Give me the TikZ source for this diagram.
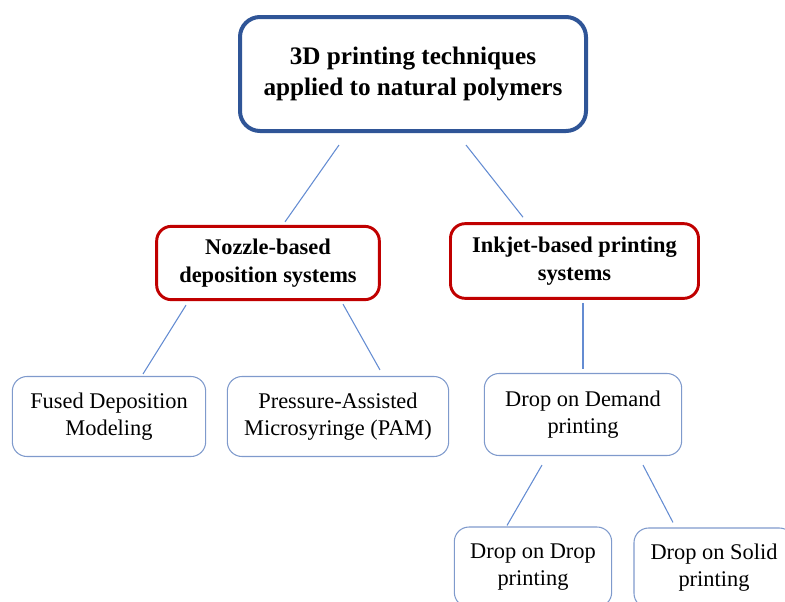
\documentclass[tikz,border=0pt]{standalone}
\usepackage{fontspec}
\setmainfont{Liberation Serif}
\definecolor{rootblue}{RGB}{47,85,151}
\definecolor{darkred}{RGB}{192,0,0}
\definecolor{boxblue}{RGB}{127,154,204}
\definecolor{linkblue}{RGB}{100,140,210}
\begin{document}
\begin{tikzpicture}[x=0.75pt, y=-0.75pt,
    rootbox/.style={draw=rootblue, line width=3pt, rounded corners=15pt, align=center,
        font=\bfseries\fontsize{18.9}{23.25}\selectfont},
    groupbox/.style={draw=darkred, line width=2.2pt, rounded corners=11pt, align=center,
        font=\bfseries\fontsize{16.8}{21}\selectfont},
    leafbox/.style={draw=boxblue, line width=0.8pt, rounded corners=11pt, align=center,
        minimum height=60pt, font=\fontsize{16.8}{20.25}\selectfont},
    link/.style={draw=linkblue, line width=0.8pt}]
    \clip (0,0) rectangle (785,601);

    \node[rootbox, minimum width=259.5pt, minimum height=85.5pt] (root) at (413,74)
        {3D printing techniques\\applied to natural polymers};

    \node[groupbox, minimum width=167pt, minimum height=55pt] (nozzle) at (268,263)
        {Nozzle-based\\deposition systems};
    \node[groupbox, minimum width=186pt, minimum height=56pt] (inkjet) at (574.5,261)
        {Inkjet-based printing\\systems};

    \node[leafbox, minimum width=145pt] (fdm) at (109,416.5) {Fused Deposition\\Modeling};
    \node[leafbox, minimum width=166pt] (pam) at (338,416.5) {Pressure-Assisted\\Microsyringe (PAM)};
    \node[leafbox, minimum width=148pt, minimum height=61.5pt] (dod) at (583,414.5) {Drop on Demand\\printing};
    \node[leafbox, minimum width=118pt] (dodrop) at (533,567) {Drop on Drop\\printing};
    \node[leafbox, minimum width=120pt] (dosolid) at (714,568) {Drop on Solid\\printing};

    % connectors stop short of the boxes
    \draw[link] ([shift={(-74,12)}]root.south) -- ([shift={(17,-3)}]nozzle.north);
    \draw[link] ([shift={(53,12)}]root.south) -- ([shift={(-51.5,-5)}]inkjet.north);
    \draw[link] ([shift={(-82,4)}]nozzle.south) -- ([shift={(34,-2)}]fdm.north);
    \draw[link] ([shift={(75,3)}]nozzle.south) -- ([shift={(42,-6)}]pam.north);
    \draw[link] ([shift={(8.5,3)}]inkjet.south) -- ([shift={(0,-4)}]dod.north);
    \draw[link] ([shift={(-41,9)}]dod.south) -- ([shift={(-26,-1)}]dodrop.north);
    \draw[link] ([shift={(60,9)}]dod.south) -- ([shift={(-41,-5)}]dosolid.north);
\end{tikzpicture}
\end{document}
